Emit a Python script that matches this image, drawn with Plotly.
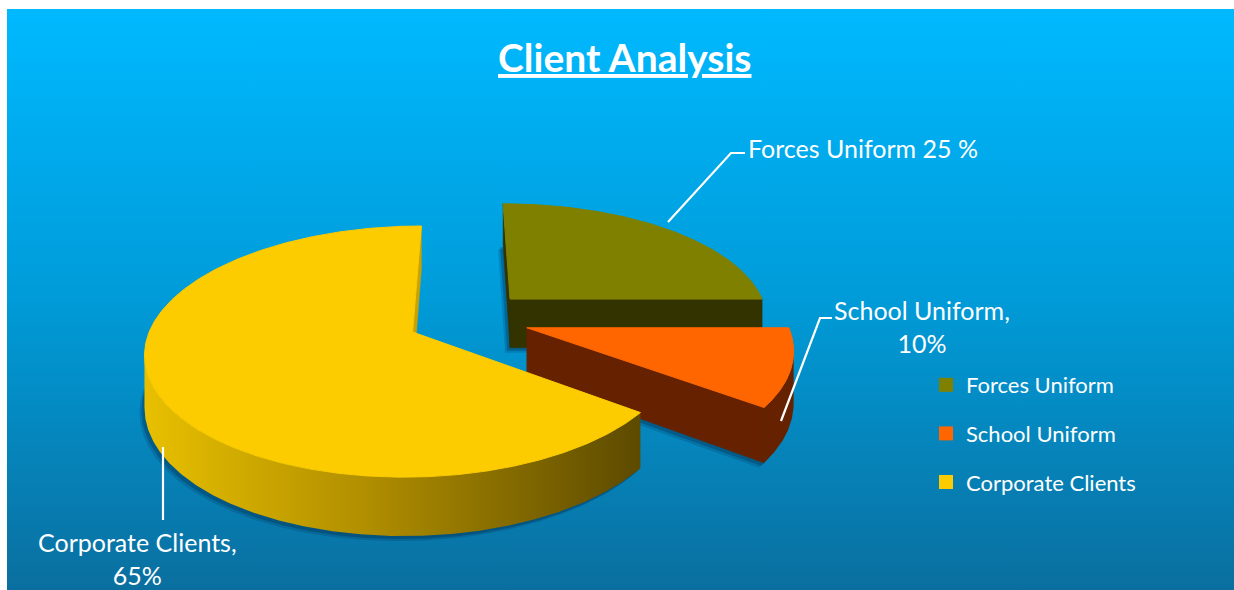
import numpy as np
import plotly.graph_objects as go

# ---- data -------------------------------------------------------------
categories = ["Forces Uniform", "School Uniform", "Corporate Clients"]
shares = [25, 10, 65]
label_texts = ["Forces Uniform 25 %", "School Uniform,<br>10%", "Corporate Clients,<br>65%"]

# ---- styling ------------------------------------------------------------
top_colors = ["#808000", "#FF6600", "#FCCB00"]
wall_colors = ["#333300", "#662200", "#C9A200"]
wall_gradients = [None, None,
                  [[0, "#E8C000"], [0.45, "#B08E00"], [1, "#5C4A00"]]]
FONT = "Lato"
W, H = 1234, 590

# 3-D pie projection (screen pixels, y grows downward)
CX, CY = 468.0, 318.8        # pie centre
A, B = 259.0, 121.4          # horizontal / vertical radius of the tilted disc
K = 0.161                    # perspective strength
T = 50.0                     # pie thickness
EXPLODE = 0.236              # slice pull-out, fraction of radius


def project(u, v, z):
    s = 1.0 + K * np.asarray(v)
    return CX + A * np.asarray(u) * s, CY + (B * np.asarray(v) + T * z) * s


def signed_area(xs, ys):
    xs, ys = np.asarray(xs), np.asarray(ys)
    return float(np.sum(xs * np.roll(ys, -1) - np.roll(xs, -1) * ys))


def poly(xs, ys):
    xs, ys = list(xs), list(ys)
    return xs + [xs[0]], ys + [ys[0]]


fig = go.Figure()

# panel background
bx, by = poly([7, W, W, 7], [9, 9, H, H])
fig.add_trace(go.Scatter(
    x=bx, y=by, mode="lines", line=dict(width=0), fill="toself",
    fillgradient=dict(type="vertical",
                      colorscale=[[0, "#0A6F9F"], [0.5, "#009BD8"], [1, "#00B9FF"]]),
    hoverinfo="skip", showlegend=False))

total = float(sum(shares))
bounds = np.concatenate([[0.0], np.cumsum(shares)]) / total * 360.0

slices = []
for i, val in enumerate(shares):
    t1, t2 = bounds[i], bounds[i + 1]
    tm = np.radians((t1 + t2) / 2)
    ou, ov = EXPLODE * np.sin(tm), -EXPLODE * np.cos(tm)
    th = np.radians(np.linspace(t1, t2, max(int((t2 - t1) * 2), 12)))
    au, av = ou + np.sin(th), ov - np.cos(th)
    slices.append(dict(i=i, ou=ou, ov=ov, au=au, av=av))

# paint from back to front
for sl in sorted(slices, key=lambda d: d["ov"]):
    i, ou, ov, au, av = sl["i"], sl["ou"], sl["ov"], sl["au"], sl["av"]
    tx, ty = project(au, av, 0)
    bx_, by_ = project(au, av, 1)
    cxt, cyt = project(ou, ov, 0)
    cxb, cyb = project(ou, ov, 1)

    # soft drop shadow under the slice
    sx = [cxb] + list(bx_) + [cxb]
    sy = [cyb] + list(by_) + [cyb]
    for off, alpha in ((5, 0.18), (3, 0.3)):
        fig.add_trace(go.Scatter(
            x=[x - off for x in sx], y=[y + off for y in sy], mode="lines",
            line=dict(width=0), fill="toself", fillcolor=f"rgba(0,35,70,{alpha})",
            hoverinfo="skip", showlegend=False))

    # radial walls
    walls = [
        ([cxt, tx[0], bx_[0], cxb], [cyt, ty[0], by_[0], cyb]),
        ([tx[-1], cxt, cxb, bx_[-1]], [ty[-1], cyt, cyb, by_[-1]]),
    ]
    for wx, wy in walls:
        if signed_area(wx, wy) < 0:
            px, py = poly(wx, wy)
            fig.add_trace(go.Scatter(
                x=px, y=py, mode="lines", line=dict(width=0.5, color=wall_colors[i]),
                fill="toself", fillcolor=wall_colors[i],
                hoverinfo="skip", showlegend=False))

    # outer curved wall: keep the segments that face the viewer
    vis = [signed_area([tx[j], tx[j + 1], bx_[j + 1], bx_[j]],
                       [ty[j], ty[j + 1], by_[j + 1], by_[j]]) < 0
           for j in range(len(tx) - 1)]
    j = 0
    while j < len(vis):
        if not vis[j]:
            j += 1
            continue
        j0 = j
        while j < len(vis) and vis[j]:
            j += 1
        j1 = j
        wx = list(tx[j0:j1 + 1]) + list(bx_[j0:j1 + 1][::-1])
        wy = list(ty[j0:j1 + 1]) + list(by_[j0:j1 + 1][::-1])
        px, py = poly(wx, wy)
        kw = dict(fillcolor=wall_colors[i])
        if wall_gradients[i] is not None:
            kw = dict(fillgradient=dict(type="horizontal", colorscale=wall_gradients[i]))
        fig.add_trace(go.Scatter(
            x=px, y=py, mode="lines", line=dict(width=0), fill="toself",
            hoverinfo="skip", showlegend=False, **kw))

    # top face
    px, py = poly([cxt] + list(tx), [cyt] + list(ty))
    fig.add_trace(go.Scatter(
        x=px, y=py, mode="lines", line=dict(width=1, color=top_colors[i]),
        fill="toself", fillcolor=top_colors[i],
        hoverinfo="skip", showlegend=False))

# legend entries
for i, name in enumerate(categories):
    fig.add_trace(go.Scatter(
        x=[None], y=[None], mode="markers", name=name, legendgroup=name,
        marker=dict(symbol="square", size=14, color=top_colors[i])))

# leader lines
leaders = [
    [(668, 222), (731, 153), (745, 153)],
    [(781, 421), (820, 318), (832, 318)],
    [(163, 447), (163, 520)],
]
for pts in leaders:
    path = "M " + " L ".join(f"{x},{y}" for x, y in pts)
    fig.add_shape(type="path", path=path, xref="x", yref="y",
                  line=dict(color="white", width=2.2))

# data labels
label_pos = [(746, 148, "left"), (922, 326, "center"), (137, 558, "center")]
for (x, y, al), txt in zip(label_pos, label_texts):
    fig.add_annotation(x=x, y=y, text=txt, showarrow=False, xref="x", yref="y",
                       xanchor=al, yanchor="middle", align="center",
                       font=dict(family=FONT, size=25, color="white"))

# title
fig.add_annotation(x=625, y=57, text="<b><u>Client Analysis</u></b>", showarrow=False,
                   xref="x", yref="y", xanchor="center", yanchor="middle",
                   font=dict(family=FONT, size=39, color="white"))

fig.update_layout(
    width=W, height=H, margin=dict(l=0, r=0, t=0, b=0),
    paper_bgcolor="white", plot_bgcolor="rgba(0,0,0,0)",
    xaxis=dict(range=[0, W], visible=False, fixedrange=True),
    yaxis=dict(range=[H, 0], visible=False, fixedrange=True),
    showlegend=True,
    legend=dict(x=926 / W, y=1 - 364 / H, xanchor="left", yanchor="top",
                bgcolor="rgba(0,0,0,0)", font=dict(family=FONT, size=22, color="white"),
                tracegroupgap=17, itemwidth=30),
)

fig.write_html("out.html")
